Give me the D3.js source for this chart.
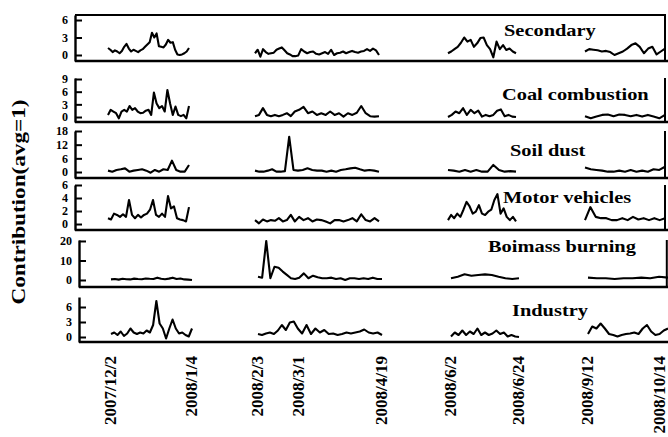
<!DOCTYPE html>
<html>
<head>
<meta charset="utf-8">
<script src="https://cdn.jsdelivr.net/npm/d3@7"></script>
<style>
  body { margin: 0; background: #fff; }
  text { font-family: "Liberation Serif", "Times New Roman", serif; font-weight: bold; fill: #000; }
</style>
</head>
<body>
<div id="chart"></div>
<script>
// Source names, one panel each.
const sources = ["Secondary", "Coal combustion", "Soil dust", "Motor vehicles", "Boimass burning", "Industry"];

// Sampling periods (winter, spring, summer, autumn).
const periodStart = ["2007/12/2", "2008/2/3", "2008/6/2", "2008/9/12"];
const periodEnd = ["2008/1/4", "2008/4/19", "2008/6/24", "2008/10/14"];

// Labels under the x axis.
const dateTicks = ["2007/12/2", "2008/1/4", "2008/2/3", "2008/3/1", "2008/4/19",
                   "2008/6/2", "2008/6/24", "2008/9/12", "2008/10/14"];

// Y tick values for each panel.
const yTicks = [[0, 3, 6], [0, 3, 6, 9], [0, 6, 12, 18], [0, 2, 4, 6], [0, 10, 20], [0, 3, 6]];
const yDomains = [[-1.03, 6.86], [-1.18, 9.24], [-2.63, 18], [-0.92, 6], [-3.59, 20.5], [-1, 8]];

// Contributions (avg=1), one array per period.
const secondary = [
  [1.2, 0.9, 0.5, 0.8, 0.6, 0.3, 0.7, 1.4, 1.9, 1.1, 0.6, 0.9, 0.7, 0.5, 0.8, 1.0, 1.4, 1.8, 2.2, 3.8, 3.0, 3.7, 1.5, 1.4, 1.3, 1.8, 2.6, 2.1, 2.2, 0.9, 0.1, 0.0, 0.1, 0.3, 0.6, 1.2],
  [0.3, 0.9, -0.3, 1.0, 0.5, 0.2, 0.3, 0.4, 0.9, 1.1, 1.3, 0.8, 0.3, 0.1, -0.2, -0.2, -0.1, 1.0, 0.6, 0.3, 0.5, 0.6, 0.2, 0.1, 0.3, 0.5, 0.2, 0.9, 0.0, 0.3, 0.4, 0.6, 0.3, 0.5, 0.7, 0.5, 0.4, 0.6, 0.7, 1.0, 0.7, 1.1, 0.8, 0.0],
  [0.3, 0.6, 1.0, 1.4, 2.1, 3.0, 2.3, 2.6, 1.4, 2.0, 2.9, 3.0, 1.7, 1.0, -0.4, 2.3, 1.0, 1.7, 0.85, 1.1, 0.6, 0.3],
  [0.6, 1.0, 0.9, 0.8, 0.6, 0.7, 0.5, 0.0, 0.3, 0.6, 1.1, 1.7, 2.0, 1.4, 0.3, 1.1, 1.4, 0.1, 0.6, 1.1]
];
const coal = [
  [0.5, 1.7, 1.3, 0.9, -0.3, 1.3, 1.7, 1.3, 2.6, 1.7, 2.1, 1.3, 0.9, 1.0, 1.5, 1.7, 0.5, 5.8, 3.2, 2.1, 2.6, 1.3, 6.4, 3.2, 0.5, 2.5, 0.5, 0.2, 0.5, -0.3, 2.6],
  [0.2, 0.5, 2.1, 0.5, 0.2, 0.5, 0.2, 0.5, 0.9, 0.2, 1.3, 1.7, 2.4, 0.9, 1.3, 0.5, 0.9, 0.5, 1.3, 0.5, 0.9, 0.1, 0.9, 0.5, 1.0, 2.6, 0.9, 0.2, 0.1, 0.2],
  [0.0, 0.5, 1.3, 0.9, 2.1, 0.5, 1.7, 0.9, 1.5, 0.1, 0.5, 0.2, 0.5, 1.5, 1.8, 0.2, 0.5, 0.1, 0.0],
  [0.2, -0.3, 0.1, 0.5, 0.6, 0.2, 0.6, 0.5, 0.2, 0.5, 0.1, 0.5, 0.1, -0.3, 0.5]
];
const soil = [
  [0.6, 0.15, 0.9, 1.2, 1.6, 0.15, 0.6, 0.9, 1.2, 0.6, -0.3, 0.9, 0.15, 1.2, 0.9, 5.0, 0.9, 0.15, 0.15, 3.1],
  [0.6, 0.15, 0.15, 0.6, 1.2, 0.15, 0.15, 0.4, 15.5, 0.9, 0.6, 0.9, 1.6, 0.9, 0.6, 0.6, 0.15, 0.6, 0.15, 0.9, 1.2, 1.6, 1.9, 1.2, 0.6, 0.9, 0.6, 0.15],
  [0.9, 0.6, 0.15, 0.9, 0.15, 0.9, 0.15, 0.15, 3.1, 0.9, 0.15, 0.4, 0.15],
  [2.0, 1.2, 0.9, 0.6, 0.15, 0.15, 0.6, 0.15, 0.9, 0.15, 0.6, 0.15, 1.2, 0.9, 2.3]
];
const motor = [
  [0.9, 0.7, 1.6, 1.4, 1.1, 1.5, 1.1, 3.7, 1.4, 0.9, 1.4, 1.0, 1.4, 1.6, 2.2, 3.7, 1.4, 1.1, 1.6, 1.1, 4.3, 2.4, 2.7, 0.9, 0.7, 0.6, 0.4, 2.6],
  [0.6, 0.1, 0.7, 0.4, 0.6, 0.5, 0.9, 0.4, 0.6, 1.4, 0.4, 1.1, 0.6, 0.9, 0.4, 0.7, 0.6, 0.4, 0.1, 0.6, 0.6, 0.4, 0.6, 0.9, 0.4, 1.5, 0.6, 0.4, 0.9, 0.4],
  [0.6, 1.4, 0.9, 1.6, 1.1, 2.2, 3.4, 2.7, 1.6, 1.9, 2.9, 1.6, 1.4, 1.9, 2.2, 3.7, 4.6, 1.6, 2.4, 1.1, 0.6, 1.1, 0.4],
  [0.6, 2.6, 1.1, 0.9, 0.9, 0.6, 0.6, 0.9, 0.6, 1.1, 0.7, 0.9, 0.6, 0.9, 0.6, 0.9]
];
const biomass = [
  [0.3, 0.5, 0.2, 0.6, 0.4, 0.3, 0.7, 0.5, 0.4, 0.8, 0.6, 0.5, 1.2, 0.6, 0.4, 0.7, 1.2, 0.5, 0.8, 0.3, 0.2, 0.0],
  [1.7, 1.2, 20, 0.9, 6.8, 6.3, 4.3, 2.6, 0.9, 0.5, 1.2, 3.4, 0.9, 2.2, 1.4, 0.9, 0.9, 1.2, 0.5, 0.9, 0.0, 0.9, 0.9, 0.5, 0.9, 0.5, 1.2, 0.5, 0.5],
  [0.9, 1.7, 2.9, 2.2, 2.6, 2.9, 2.6, 1.7, 0.9, 0.5, 0.9],
  [1.2, 0.9, 0.9, 0.5, 0.9, 0.9, 1.2, 0.9, 1.7, 1.2]
];
const industry = [
  [0.6, 0.9, 0.4, 1.1, 0.2, 0.7, 1.7, 0.9, 0.6, 0.9, 0.7, 1.3, 0.9, 2.4, 7.2, 2.7, 1.7, -0.3, 1.7, 3.5, 1.7, 0.7, 0.9, 0.4, 0.1, 1.7],
  [0.6, 0.4, 0.7, 0.9, 0.6, 1.3, 2.4, 1.4, 2.9, 3.1, 1.7, 0.7, 2.4, 0.6, 1.7, 0.9, 1.4, 0.6, 0.7, 0.4, 0.6, 0.9, 0.7, 0.9, 1.1, 1.5, 0.9, 0.7, 0.9, 0.4],
  [0.1, 0.9, 0.4, 1.3, 0.4, 1.1, 0.6, 1.7, 0.4, 0.9, 0.4, 0.7, 1.3, 0.6, 0.9, 0.1, 0.4, 0.1, 0.0],
  [0.6, 2.1, 1.7, 2.7, 1.7, 0.6, 0.4, 0.1, 0.4, 0.6, 0.7, 0.9, 0.6, 1.7, 2.4, 1.1, 0.4, 0.6, 1.3, 1.7]
];
const series = [secondary, coal, soil, motor, biomass, industry];

// Layout
const width = 668, height = 437;
const right = 665;
const panels = [
  { left: 75, top: 15, bottom: 61, boxTop: true, boxRight: true },
  { left: 75, top: 78, bottom: 122, boxRight: true },
  { left: 75, top: 131, bottom: 178, boxRight: true },
  { left: 75, top: 185, bottom: 230, boxRight: true },
  { left: 79, top: 240, bottom: 287, boxRight: true, shift: 3 },
  { left: 79, top: 297, bottom: 342, shift: 3 }
];
const titlePos = [[504, 36], [502, 100], [510, 156], [503, 203], [488, 252], [512, 316]];
const tickX = [108, 189, 255, 296, 379, 448, 516, 585, 665];

const parseDate = d3.timeParse("%Y/%m/%d");

const x = d3.scaleTime()
    .domain(dateTicks.map(parseDate))
    .range(tickX);

const svg = d3.select("#chart")
    .append("svg")
    .attr("width", width)
    .attr("height", height);

svg.append("rect").attr("width", width).attr("height", height).attr("fill", "#fff");

panels.forEach((p, i) => {
    const dx = p.shift || 0;
    const y = d3.scaleLinear().domain(yDomains[i]).range([p.bottom, p.top]);
    const g = svg.append("g");

    // Frame
    g.append("line")
        .attr("x1", p.left).attr("x2", width)
        .attr("y1", p.bottom).attr("y2", p.bottom)
        .attr("stroke", "#000").attr("stroke-width", 2.4);
    if (p.boxTop) {
        g.append("line")
            .attr("x1", p.left).attr("x2", right + 1)
            .attr("y1", p.top).attr("y2", p.top)
            .attr("stroke", "#000").attr("stroke-width", 2);
    }
    if (p.boxRight) {
        g.append("line")
            .attr("x1", right + dx * 0.6).attr("x2", right + dx * 0.6)
            .attr("y1", p.top).attr("y2", p.bottom)
            .attr("stroke", "#000").attr("stroke-width", 2);
    }

    // Y axis, ticks pointing inward
    const axis = g.append("g")
        .attr("transform", `translate(${p.left},0)`)
        .call(d3.axisLeft(y)
            .tickValues(yTicks[i])
            .tickFormat(d3.format("d"))
            .tickSizeInner(-7)
            .tickSizeOuter(0)
            .tickPadding(7));
    axis.select(".domain").attr("stroke-width", 2.4);
    axis.selectAll(".tick line").attr("stroke-width", 2);
    axis.selectAll(".tick text")
        .attr("font-size", 12)
        .attr("font-family", "Liberation Serif, serif")
        .attr("font-weight", "bold");

    // Lines for each period
    const line = d3.line()
        .x(d => x(d.date) + dx)
        .y(d => y(d.value));

    series[i].forEach((vals, k) => {
        const t0 = parseDate(periodStart[k]).getTime();
        const t1 = parseDate(periodEnd[k]).getTime();
        const pts = vals.map((v, j) => ({
            date: new Date(t0 + (t1 - t0) * j / (vals.length - 1)),
            value: v
        }));
        g.append("path")
            .datum(pts)
            .attr("d", line)
            .attr("fill", "none")
            .attr("stroke", "#000")
            .attr("stroke-width", 2.1)
            .attr("stroke-linejoin", "round");
    });

    // Panel title
    g.append("text")
        .attr("transform", `translate(${titlePos[i][0]},${titlePos[i][1]}) scale(1.2,1)`)
        .attr("font-size", 17)
        .text(sources[i]);
});

// Date labels
svg.append("g")
    .selectAll("text")
    .data(dateTicks)
    .join("text")
    .attr("transform", d => `translate(${Math.min(x(parseDate(d)) + 2, 659)},356) rotate(-90)`)
    .attr("text-anchor", "end")
    .attr("dy", "0.35em")
    .attr("font-size", 17)
    .text(d => d);

// Y title
svg.append("text")
    .attr("transform", "translate(18,202) rotate(-90) scale(1.22,1)")
    .attr("text-anchor", "middle")
    .attr("dy", "0.35em")
    .attr("font-size", 19)
    .text("Contribution(avg=1)");
</script>
</body>
</html>
